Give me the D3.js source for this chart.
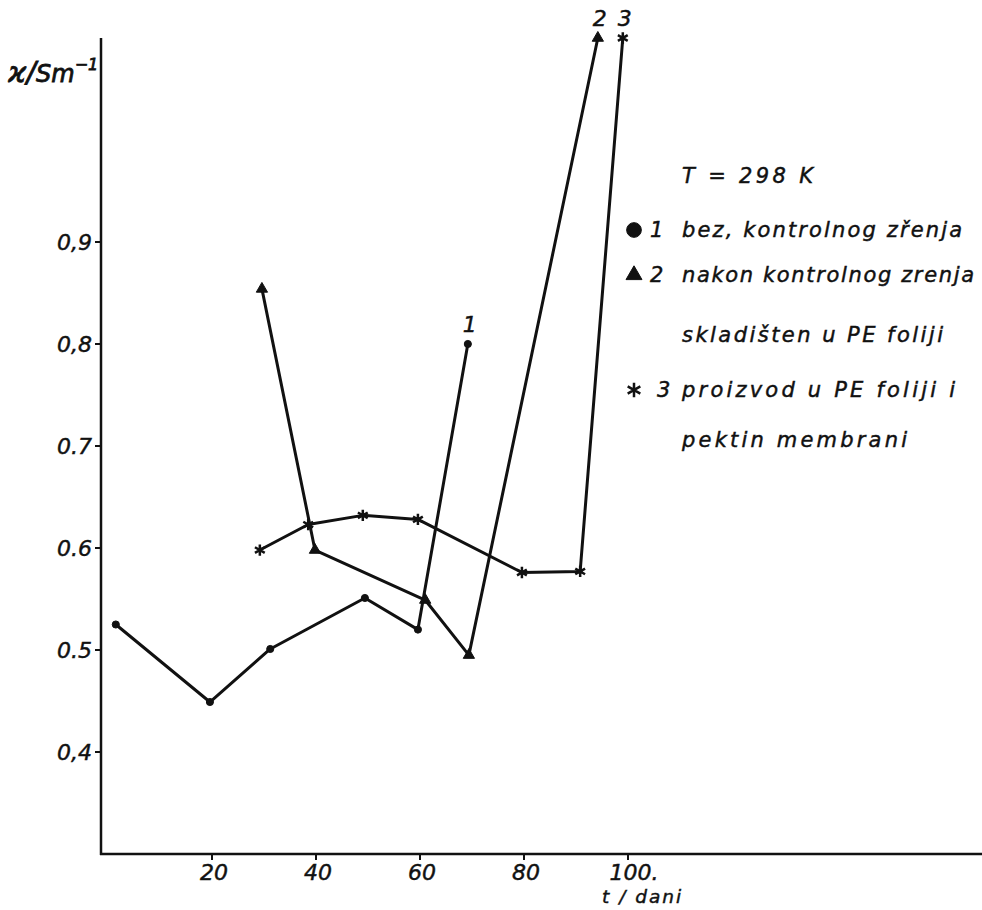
<!DOCTYPE html>
<html>
<head>
<meta charset="utf-8">
<script src="https://cdn.jsdelivr.net/npm/d3@7"></script>
<style>
  html, body { margin: 0; padding: 0; background: #fff; }
  svg { display: block; }
  text { font-family: "DejaVu Sans", sans-serif; font-style: italic; fill: #111; stroke: #111; stroke-width: 0.45; }
</style>
</head>
<body>
<svg id="chart" width="982" height="910"></svg>
<script>
// ---- data ----
const s1_t = [1.5, 19.6, 31.2, 49.4, 59.6, 69.2];
const s1_v = [0.525, 0.449, 0.501, 0.551, 0.520, 0.800];
const s2_t = [29.6, 39.8, 61.0, 69.4, 94.2];
const s2_v = [0.854, 0.598, 0.549, 0.495, 1.100];
const s3_t = [29.2, 38.5, 49.0, 59.6, 79.6, 90.8, 99.0];
const s3_v = [0.598, 0.623, 0.632, 0.628, 0.576, 0.577, 1.100];
const xTicks = [20, 40, 60, 80, 100];
const xTickLabels = ["20", "40", "60", "80", "100."];
const yTicks = [0.4, 0.5, 0.6, 0.7, 0.8, 0.9];
const yTickLabels = ["0,4", "0.5", "0.6", "0.7", "0,8", "0,9"];
const seriesNames = ["1", "2", "3"];
const legendLines = [
  "T = 298 K",
  "bez, kontrolnog zřenja",
  "nakon kontrolnog zrenja",
  "skladišten u PE foliji",
  "proizvod u PE foliji i",
  "pektin membrani"
];

const svg = d3.select("#chart");
const x = d3.scaleLinear().domain([0, 100]).range([108, 628]);
const y = d3.scaleLinear().domain([0.3, 1.1]).range([854, 38]);
const axisLeftX = 101, axisRightX = 982;

// axes lines
svg.append("line").attr("x1", axisLeftX).attr("x2", axisLeftX)
  .attr("y1", y(1.1)).attr("y2", y(0.3) + 1)
  .attr("stroke", "#111").attr("stroke-width", 2.5);
svg.append("line").attr("x1", axisLeftX - 1).attr("x2", axisRightX)
  .attr("y1", y(0.3)).attr("y2", y(0.3))
  .attr("stroke", "#111").attr("stroke-width", 2.5);

// x ticks
const xg = svg.append("g");
xTicks.forEach((t, i) => {
  xg.append("line").attr("x1", x(t)).attr("x2", x(t))
    .attr("y1", y(0.3)).attr("y2", y(0.3) + 6)
    .attr("stroke", "#111").attr("stroke-width", 2);
  xg.append("text").attr("x", x(t) + (i === 4 ? 6 : 2)).attr("y", 880)
    .attr("text-anchor", "middle").attr("font-size", 22)
    .text(xTickLabels[i]);
});
svg.append("text").attr("x", 602).attr("y", 903).attr("font-size", 18.5)
  .attr("letter-spacing", 2).text("t / dani");

// y ticks
const yg = svg.append("g");
yTicks.forEach((v, i) => {
  yg.append("line").attr("x1", axisLeftX - 6).attr("x2", axisLeftX)
    .attr("y1", y(v)).attr("y2", y(v))
    .attr("stroke", "#111").attr("stroke-width", 2);
  yg.append("text").attr("x", 92).attr("y", y(v) + 8)
    .attr("text-anchor", "end").attr("font-size", 22)
    .text(yTickLabels[i]);
});

// y axis title
const yt = svg.append("text").attr("x", 8).attr("y", 82).attr("font-size", 28)
  .style("stroke-width", 0.8);
yt.append("tspan").text("ϰ/");
yt.append("tspan").attr("font-size", 24).text("Sm");
yt.append("tspan").attr("dy", -12).attr("font-size", 16).text("−1");

// series
const series = [
  { t: s1_t, v: s1_v, sym: d3.symbolCircle, fill: true, size: 40 },
  { t: s2_t, v: s2_v, sym: d3.symbolTriangle, fill: true, size: 55 },
  { t: s3_t, v: s3_v, sym: d3.symbolAsterisk, fill: false, size: 90 }
];
const line = d3.line().x(d => x(d[0])).y(d => y(d[1]));
series.forEach(s => {
  const pts = s.t.map((t, i) => [t, s.v[i]]);
  svg.append("path").datum(pts).attr("d", line)
    .attr("fill", "none").attr("stroke", "#111").attr("stroke-width", 3)
    .attr("stroke-linejoin", "round");
  svg.append("g").selectAll("path").data(pts).join("path")
    .attr("transform", d => `translate(${x(d[0])},${y(d[1])})`)
    .attr("d", d3.symbol().type(s.sym).size(s.size))
    .attr("fill", s.fill ? "#111" : "none")
    .attr("stroke", "#111").attr("stroke-width", s.fill ? 1 : 2.5);
});

// curve number labels at the last points
series.forEach((s, i) => {
  const n = s.t.length - 1;
  svg.append("text").attr("x", x(s.t[n]) + 2).attr("y", y(s.v[n]) - 12)
    .attr("text-anchor", "middle").attr("font-size", 22)
    .text(seriesNames[i]);
});

// legend
const lg = svg.append("g");
const lx = 682;
const rows = [183, 237, 282, 342, 397, 447];
const widths = [131, 280, 292, 261, 273, 225];
legendLines.forEach((t, i) => {
  lg.append("text").attr("x", lx).attr("y", rows[i]).attr("font-size", 21)
    .attr("textLength", widths[i]).attr("lengthAdjust", "spacing")
    .text(t);
});
const legendSyms = [
  { sym: d3.symbolCircle, row: 1, fill: true, size: 170, lab: "1" },
  { sym: d3.symbolTriangle, row: 2, fill: true, size: 110, lab: "2" },
  { sym: d3.symbolAsterisk, row: 4, fill: false, size: 150, lab: "3" }
];
legendSyms.forEach(l => {
  lg.append("path").attr("transform", `translate(634,${rows[l.row] - 7})`)
    .attr("d", d3.symbol().type(l.sym).size(l.size))
    .attr("fill", l.fill ? "#111" : "none").attr("stroke", "#111")
    .attr("stroke-width", l.fill ? 1 : 2.5);
  lg.append("text").attr("x", l.row === 4 ? 657 : 650).attr("y", rows[l.row])
    .attr("font-size", 21).text(l.lab);
});
</script>
</body>
</html>
